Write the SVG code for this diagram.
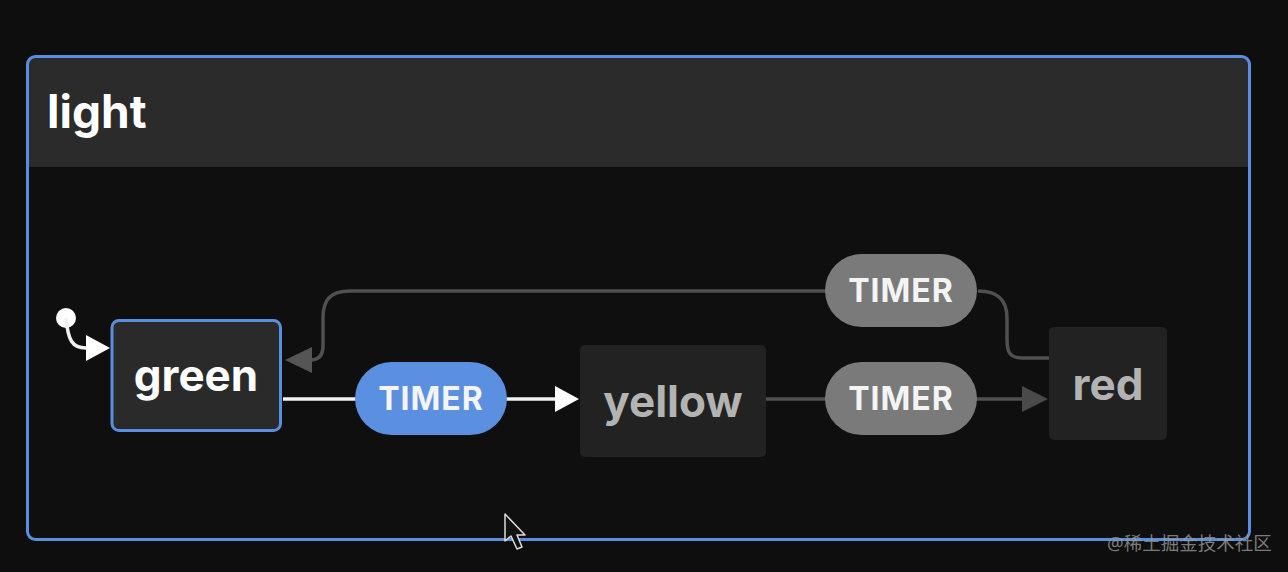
<svg xmlns="http://www.w3.org/2000/svg" width="1288" height="572" viewBox="0 0 1288 572">
  <defs>
    <style>
      .lbl { font-family: Inter, "Noto Sans", "Liberation Sans", sans-serif; font-weight: 700; }
      .node-text { font-size: 44px; text-anchor: middle; }
      .pill-text { font-size: 32px; text-anchor: middle; fill: #f4f4f4; letter-spacing: 1px; }
      .edge-active { stroke: #f2f2f2; stroke-width: 3.5; fill: none; }
      .edge-idle { stroke: #505050; stroke-width: 3.5; fill: none; }
    </style>
  </defs>
  <rect x="0" y="0" width="1288" height="572" fill="#0e0e0e"/>

  <g id="light">
    <rect x="27" y="56" width="1223" height="484" rx="8" fill="#0f0f0f"/>
    <path d="M35 57.5 H1242 A7 7 0 0 1 1249 64.5 V167 H28.5 V64.5 A7 7 0 0 1 35 57.5 Z" fill="#2b2b2b"/>
    <rect x="27.5" y="56.5" width="1222" height="483" rx="8" fill="none" stroke="#5a8ee0" stroke-width="3"/>
    <text class="lbl" x="47" y="128" font-size="46" fill="#ffffff">light</text>
  </g>

  <g id="connectors">
    <!-- initial -->
    <circle cx="66" cy="318" r="10" fill="#ffffff"/>
    <path class="edge-active" d="M66 318 C68 340 72 348 86 348 H90"/>
    <polygon points="86,335 110,348 86,361" fill="#ffffff"/>
    <!-- green -> yellow -->
    <path class="edge-active" d="M283 399 H357"/>
    <path class="edge-active" d="M506 399 H556"/>
    <polygon points="555,386 579,399 555,412" fill="#ffffff"/>
    <!-- yellow -> red -->
    <path class="edge-idle" d="M766 399 H826"/>
    <path class="edge-idle" d="M976 399 H1023"/>
    <polygon points="1022,386 1048,399 1022,412" fill="#4a4a4a"/>
    <!-- red -> green -->
    <path class="edge-idle" d="M1049 358 H1022 C1008 358 1007 350 1007 338 V318 C1007 300 998 291 978 291"/>
    <path class="edge-idle" d="M826 291 H350 C330 291 323 300 323 318 V346 C323 356 318 360 310 360"/>
    <polygon points="312,347 285,360 312,373" fill="#555555"/>
  </g>

  <g id="green">
    <rect x="112" y="320.5" width="168.5" height="110" rx="7" fill="#2a2a2a" stroke="#5a8ee0" stroke-width="3"/>
    <text class="lbl node-text" x="196" y="391" fill="#ffffff">green</text>
  </g>

  <g id="timer-green-yellow">
    <rect x="355" y="362" width="152" height="73" rx="36.5" fill="#5b8fe0"/>
    <text class="lbl pill-text" x="431" y="410">TIMER</text>
  </g>

  <g id="yellow">
    <rect x="580" y="345" width="186" height="112" rx="5" fill="#222222"/>
    <text class="lbl node-text" x="673" y="417" fill="#b3b3b3">yellow</text>
  </g>

  <g id="timer-yellow-red">
    <rect x="825" y="362" width="152" height="73" rx="36.5" fill="#7a7a7a"/>
    <text class="lbl pill-text" x="901" y="410">TIMER</text>
  </g>

  <g id="timer-red-green">
    <rect x="825" y="254" width="152" height="73" rx="36.5" fill="#7a7a7a"/>
    <text class="lbl pill-text" x="901" y="302">TIMER</text>
  </g>

  <g id="red">
    <rect x="1049" y="327" width="118" height="113" rx="5" fill="#222222"/>
    <text class="lbl node-text" x="1108" y="400" fill="#b3b3b3">red</text>
  </g>

  <g id="cursor">
    <polygon points="505,514 505,541 511,536 517,549 522,547 517,535 525,535" fill="#111111" stroke="#dddddd" stroke-width="1.5" stroke-linejoin="round"/>
  </g>

  <text x="1107" y="550" font-family="'Noto Sans', 'Noto Sans CJK SC', sans-serif" font-size="18.5" fill="#9a9a9a" fill-opacity="0.8">@稀土掘金技术社区</text>
</svg>
